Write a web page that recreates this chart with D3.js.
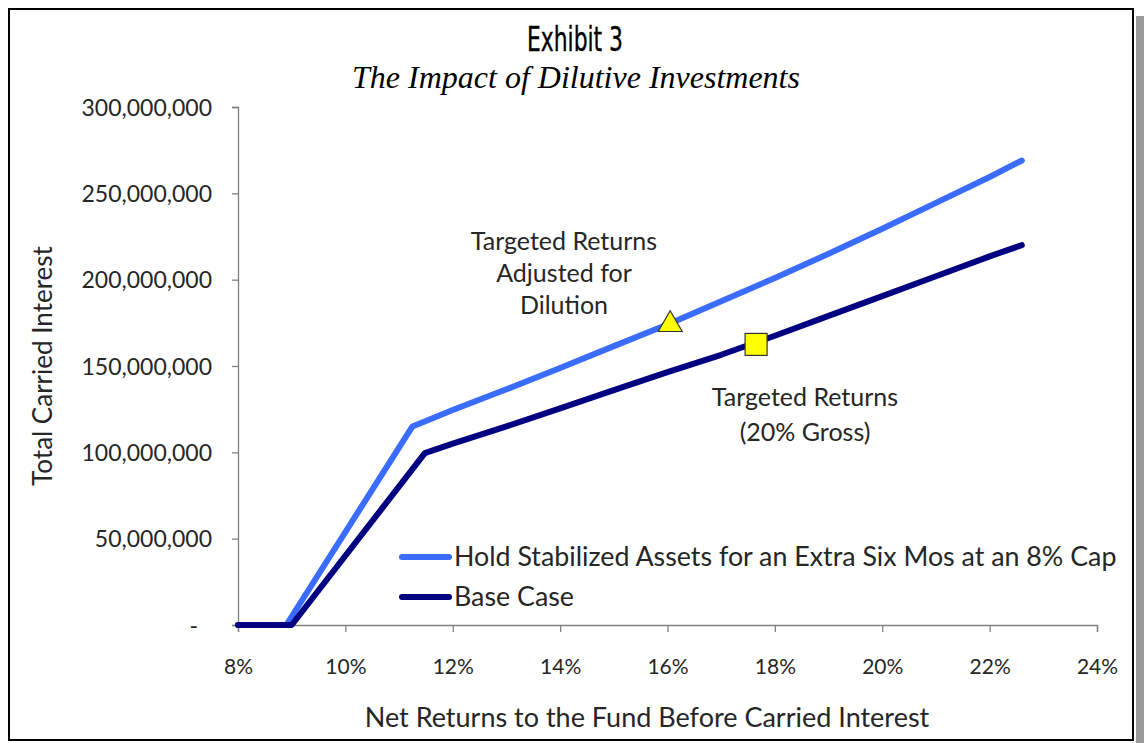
<!DOCTYPE html>
<html><head><meta charset="utf-8">
<script src="https://cdn.jsdelivr.net/npm/d3@7"></script>
<style>
html,body{margin:0;padding:0;background:#fff;}
svg{display:block;}
</style></head>
<body>
<svg id="chart" width="1144" height="743"></svg>
<script>
// ---- data ----
const titleText = "Exhibit 3";
const subtitleText = "The Impact of Dilutive Investments";
const seriesNames = ["Hold Stabilized Assets for an Extra Six Mos at an 8% Cap", "Base Case"];
// Net return to fund (%) and total carried interest ($)
const dilutedReturns = [8, 8.9, 11.25, 12, 13, 14, 15, 16, 17, 18, 19, 20, 21, 22, 22.6];
const dilutedCarry   = [0, 0, 115e6, 124.5e6, 136.5e6, 148.8e6, 161.5e6, 174e6, 187.5e6, 201e6, 215e6, 229.5e6, 244.5e6, 259.5e6, 269e6];
const baseReturns    = [8, 9.0, 11.48, 12, 13, 14, 15, 16, 17, 18, 19, 20, 21, 22, 22.6];
const baseCarry      = [0, 0, 99.5e6, 105e6, 115e6, 125.5e6, 136e6, 146.5e6, 156.5e6, 167.5e6, 179e6, 190.5e6, 202e6, 213.5e6, 220e6];
const xTicks = [8, 10, 12, 14, 16, 18, 20, 22, 24];
const yTicks = [0, 50e6, 100e6, 150e6, 200e6, 250e6, 300e6];
const markerTriangle = {ret: 16.05, carry: 174e6};
const markerSquare = {ret: 17.65, carry: 162.5e6};
const annotationDiluted = ["Targeted Returns", "Adjusted for", "Dilution"];
const annotationBase = ["Targeted Returns", "(20% Gross)"];
const xAxisTitle = "Net Returns to the Fund Before Carried Interest";
const yAxisTitle = "Total Carried Interest";

// ---- drawing ----
const svg = d3.select("#chart");
const font = "Lato, 'Open Sans', sans-serif";
const lightBlue = "#3A6CFF", navy = "#000080", textColor = "#262626";

// frame with shadow
svg.append("rect").attr("x", 1136).attr("y", 16).attr("width", 8).attr("height", 727).attr("fill", "#9a9a9a");
svg.append("rect").attr("x", 9).attr("y", 9).attr("width", 1124).attr("height", 731)
  .attr("fill", "#fff").attr("stroke", "#000").attr("stroke-width", 2);

const x = d3.scaleLinear().domain([8, 24]).range([238, 1097]);
const y = d3.scaleLinear().domain([0, 300e6]).range([625, 107]);

// titles
svg.append("text").attr("x", 575).attr("y", 51).attr("text-anchor", "middle")
  .attr("font-family", "'Liberation Sans Narrow', 'DejaVu Sans Condensed', sans-serif")
  .attr("font-size", 33).attr("textLength", 96).attr("lengthAdjust", "spacingAndGlyphs")
  .attr("fill", "#000").attr("stroke", "#000").attr("stroke-width", 0.35).text(titleText);
svg.append("text").attr("x", 576).attr("y", 88).attr("text-anchor", "middle")
  .attr("font-family", "'Liberation Serif', 'Times New Roman', serif").attr("font-style", "italic")
  .attr("font-size", 32).attr("fill", "#000").text(subtitleText);

// axes
const axisColor = "#7f7f7f";
const yAxis = d3.axisLeft(y).tickValues(yTicks).tickSizeOuter(0).tickSize(6)
  .tickFormat(d => d === 0 ? "-" : d3.format(",")(d));
const gy = svg.append("g").attr("transform", "translate(238,0)").call(yAxis);
gy.select(".domain").attr("stroke", axisColor).attr("stroke-width", 1.3);
gy.selectAll(".tick line").attr("stroke", axisColor).attr("stroke-width", 1.3);
gy.selectAll(".tick text").attr("font-family", font).attr("font-size", 23).attr("fill", textColor)
  .attr("x", -26).attr("dy", "0.35em")
  .filter(d => d === 0).attr("x", -40);

const xAxis = d3.axisBottom(x).tickValues(xTicks).tickSizeOuter(0).tickSize(7)
  .tickFormat(d => d + "%");
const gx = svg.append("g").attr("transform", "translate(0,625)").call(xAxis);
gx.select(".domain").attr("stroke", axisColor).attr("stroke-width", 1.3);
gx.selectAll(".tick line").attr("stroke", axisColor).attr("stroke-width", 1.3);
gx.selectAll(".tick text").attr("font-family", font).attr("font-size", 21).attr("fill", textColor)
  .attr("y", 42).attr("dy", "0.35em");

// axis titles
svg.append("text").attr("x", 647).attr("y", 727).attr("text-anchor", "middle")
  .attr("font-family", font).attr("font-size", 27).attr("fill", textColor).text(xAxisTitle);
svg.append("text").attr("transform", "translate(52,366) rotate(-90)").attr("text-anchor", "middle")
  .attr("font-family", font).attr("font-size", 26).attr("fill", textColor).text(yAxisTitle);

// lines
const line = d3.line().x(d => x(d[0])).y(d => y(d[1]));
const dilutedData = dilutedReturns.map((r, i) => [r, dilutedCarry[i]]);
const baseData = baseReturns.map((r, i) => [r, baseCarry[i]]);
svg.append("path").datum(dilutedData).attr("d", line).attr("fill", "none")
  .attr("stroke", lightBlue).attr("stroke-width", 6).attr("stroke-linejoin", "round").attr("stroke-linecap", "round");
svg.append("path").datum(baseData).attr("d", line).attr("fill", "none")
  .attr("stroke", navy).attr("stroke-width", 6).attr("stroke-linejoin", "round").attr("stroke-linecap", "round");

// markers
const tx = x(markerTriangle.ret), ty = y(markerTriangle.carry);
svg.append("path").attr("d", d3.symbol().type(d3.symbolTriangle).size(250)())
  .attr("transform", `translate(${tx},${ty})`).attr("fill", "#FFFF00").attr("stroke", "#333").attr("stroke-width", 1.2);
const sx = x(markerSquare.ret), sy = y(markerSquare.carry);
svg.append("rect").attr("x", sx - 11).attr("y", sy - 11).attr("width", 22).attr("height", 22)
  .attr("fill", "#FFFF00").attr("stroke", "#333").attr("stroke-width", 1.2);

// annotations
const a1 = svg.append("text").attr("text-anchor", "middle").attr("font-family", font).attr("font-size", 25).attr("fill", textColor);
annotationDiluted.forEach((t, i) => a1.append("tspan").attr("x", 564).attr("y", 250 + i * 32).text(t));
const a2 = svg.append("text").attr("text-anchor", "middle").attr("font-family", font).attr("font-size", 25).attr("fill", textColor);
annotationBase.forEach((t, i) => a2.append("tspan").attr("x", 805).attr("y", 406 + i * 35).text(t));

// legend
const legendY = [557, 597];
const legendColors = [lightBlue, navy];
seriesNames.forEach((n, i) => {
  svg.append("line").attr("x1", 402).attr("x2", 449).attr("y1", legendY[i]).attr("y2", legendY[i])
    .attr("stroke", legendColors[i]).attr("stroke-width", 6).attr("stroke-linecap", "round");
  svg.append("text").attr("x", 454).attr("y", legendY[i]).attr("dy", "0.35em")
    .attr("font-family", font).attr("font-size", 26.8).attr("fill", textColor).text(n);
});
</script>
</body></html>
